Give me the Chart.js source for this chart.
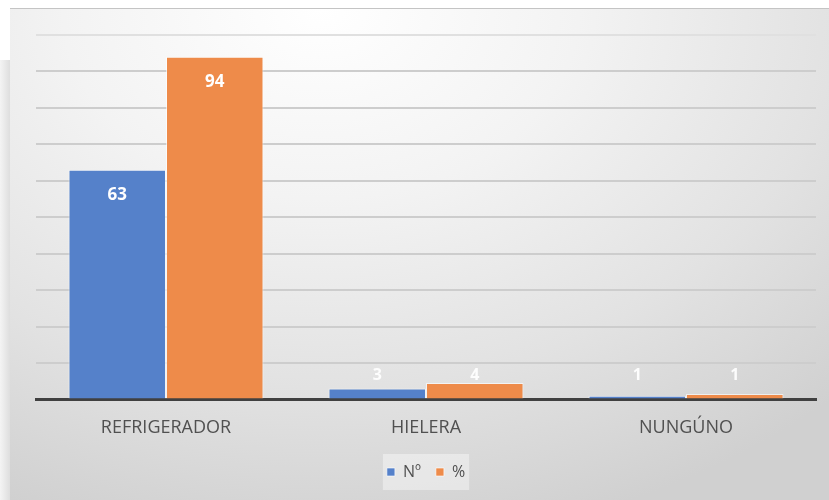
<!DOCTYPE html>
<html>
<head>
<meta charset="utf-8">
<script src="https://cdn.jsdelivr.net/npm/chart.js@4"></script>
<style>
  html, body { margin: 0; padding: 0; width: 829px; height: 500px; overflow: hidden; background: #ffffff; }
  #left { position: absolute; left: 0; top: 60px; width: 10px; height: 440px; background: linear-gradient(90deg, #f4f4f4, #dedede); }
  #panel { position: absolute; left: 10px; top: 8px; width: 819px; height: 492px;
    border-top: 1px solid #c4c4c4;
    background: radial-gradient(ellipse 90% 110% at 38% 0%, #ffffff 0%, #f3f3f3 35%, #e2e2e2 70%, #d0d0d0 100%); }
  #wrap { position: absolute; left: 0; top: 0; width: 829px; height: 500px; }
</style>
</head>
<body>
<div id="left"></div>
<div id="panel"></div>
<div id="wrap"><canvas id="c" width="829" height="500"></canvas></div>
<script>
const categories = ["REFRIGERADOR", "HIELERA", "NUNGÚNO"];
const seriesNames = ["Nº", "%"];
const countValues = [63, 3, 1];
const percentValues = [94.03, 4.48, 1.49];
const seriesColors = ["#5581ca", "#ee8b4a"];

const barLabels = {
  id: 'barLabels',
  afterDatasetsDraw(chart) {
    const ctx = chart.ctx;
    ctx.save();
    ctx.textAlign = 'center';
    ctx.textBaseline = 'middle';
    chart.data.datasets.forEach((ds, i) => {
      const meta = chart.getDatasetMeta(i);
      meta.data.forEach((bar, j) => {
        const v = ds.data[j];
        const h = bar.base - bar.y;
        let y;
        if (h > 40) { y = bar.y + 25; ctx.fillStyle = '#ffffff'; ctx.font = 'bold 17px "Open Sans", sans-serif'; }
        else { y = bar.base - 23; ctx.fillStyle = 'rgba(255,255,255,0.92)'; ctx.font = 'bold 16px "Open Sans", sans-serif'; }
        ctx.fillText(String(Math.round(v)), bar.x, y);
      });
    });
    ctx.restore();
  }
};

const legendBox = {
  id: 'legendBox',
  beforeDraw(chart) {
    const lg = chart.legend;
    if (!lg || !lg.legendHitBoxes || !lg.legendHitBoxes.length) return;
    const b = lg.legendHitBoxes;
    const x0 = b[0].left - 4, x1 = b[b.length - 1].left + b[b.length - 1].width + 4;
    const y0 = b[0].top - 10, y1 = b[0].top + b[0].height + 10;
    const ctx = chart.ctx;
    ctx.save();
    ctx.fillStyle = 'rgba(255,255,255,0.4)';
    ctx.fillRect(x0, y0, x1 - x0, y1 - y0);
    ctx.restore();
  }
};

new Chart(document.getElementById('c'), {
  type: 'bar',
  data: {
    labels: categories,
    datasets: [
      { label: seriesNames[0], data: countValues, backgroundColor: seriesColors[0], borderColor: 'rgba(255,255,255,0.6)', borderWidth: 1 },
      { label: seriesNames[1], data: percentValues, backgroundColor: seriesColors[1], borderColor: 'rgba(255,255,255,0.6)', borderWidth: 1 }
    ]
  },
  plugins: [legendBox, barLabels],
  options: {
    responsive: false,
    animation: false,
    devicePixelRatio: 1,
    layout: { padding: { left: 36, right: 13, top: 35, bottom: 10 } },
    datasets: { bar: { categoryPercentage: 0.75, barPercentage: 1.0 } },
    scales: {
      x: {
        grid: { display: false },
        border: { display: true, color: '#404040', width: 3 },
        ticks: { color: '#505050', font: { family: '"Open Sans", sans-serif', size: 18 }, padding: 10 }
      },
      y: {
        min: 0, max: 100,
        ticks: { display: false, stepSize: 10 },
        border: { display: false },
        grid: { drawTicks: false, lineWidth: 2, color: (c) => c.tick && c.tick.value === 100 ? '#e0e0e0' : '#cdcdcd' }
      }
    },
    plugins: {
      tooltip: { enabled: false },
      legend: {
        position: 'bottom',
        labels: { color: '#505050', boxWidth: 8, boxHeight: 8, padding: 15, font: { family: '"Open Sans", sans-serif', size: 16 } }
      }
    }
  }
});
</script>
</body>
</html>
